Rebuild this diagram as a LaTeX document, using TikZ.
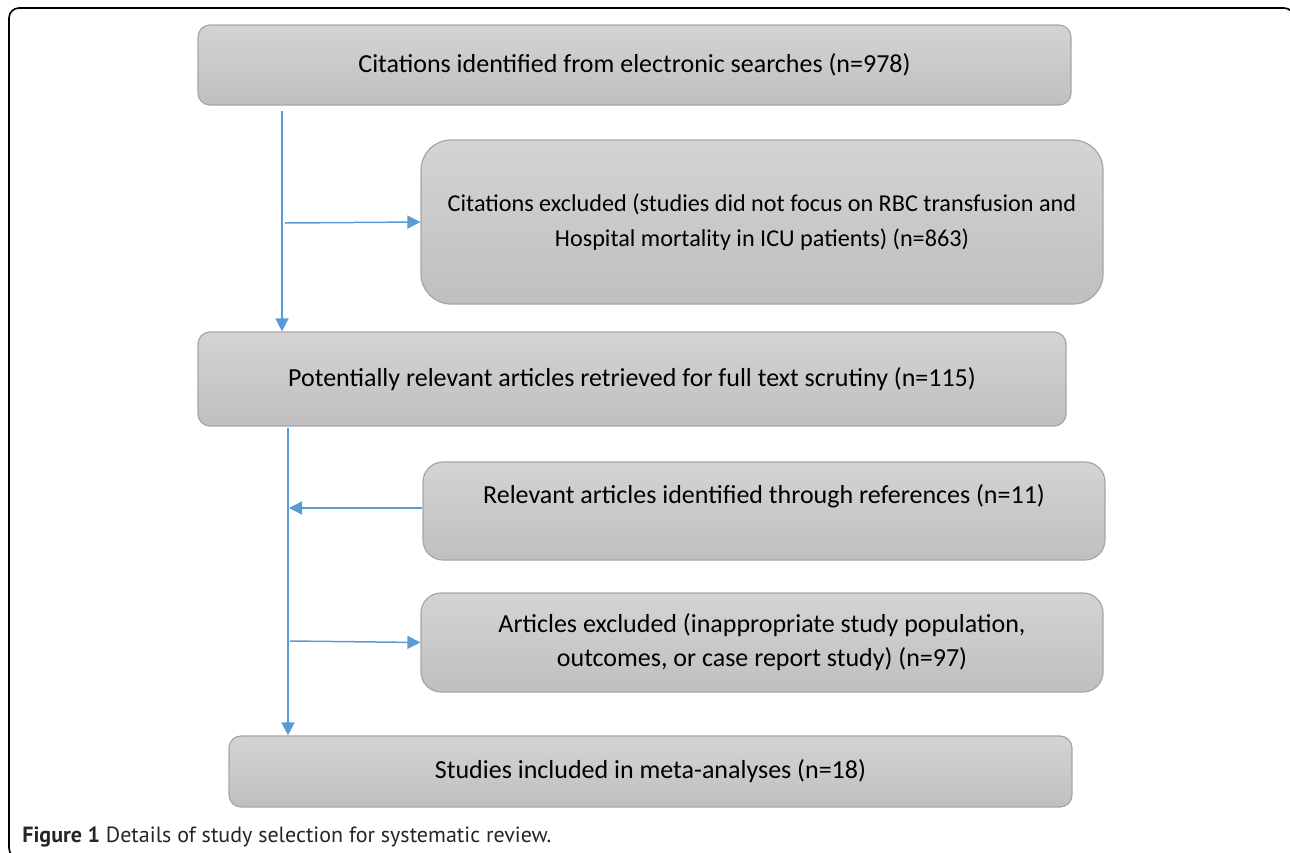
\documentclass[tikz,border=0pt]{standalone}
\usepackage{fontspec}
\setmainfont{Carlito}
\newfontfamily\capfont{PT Sans}
\usetikzlibrary{arrows.meta}
\definecolor{flowblue}{RGB}{91,155,213}
\definecolor{boxedge}{RGB}{166,166,166}
\tikzset{
	stepbox/.style={draw=boxedge, line width=0.6pt, top color=black!17, bottom color=black!25,
		align=center, inner sep=0pt, font=\fontsize{13}{17}\selectfont},
	flow/.style={draw=flowblue, line width=0.75pt, -{Triangle[length=6.5pt,width=6.5pt]}},
}

\begin{document}
\begin{tikzpicture}[x=0.5pt, y=-0.5pt]
			%%%%% START %%%%%
			
			\clip (0, 0) rectangle (1290, 852);
			\useasboundingbox (0, 0) rectangle (1290, 852);
			\draw[rounded corners=5pt, line width=0.8pt] (9, 8) rectangle (1294, 858);
			
			\node[stepbox, rounded corners=6pt, minimum width=436.5pt, minimum height=40pt] (search) at (634.5, 65) {Citations identified from electronic searches (n=978)};
			\node[stepbox, rounded corners=15pt, minimum width=341pt, minimum height=82pt, font=\fontsize{12.1}{17.5}\selectfont] (excl1) at (762, 222) {Citations excluded (studies did not focus on RBC transfusion and\\Hospital mortality in ICU patients) (n=863)};
			\node[stepbox, rounded corners=6pt, minimum width=434pt, minimum height=47pt] (full) at (632, 379) {Potentially relevant articles retrieved for full text scrutiny (n=115)};
			\node[stepbox, rounded corners=10pt, minimum width=341pt, minimum height=49pt] (refs) at (764, 511) {Relevant articles identified through references (n=11)\\~};
			\node[stepbox, rounded corners=10pt, minimum width=341pt, minimum height=49.5pt] (excl2) at (762, 642.5) {Articles excluded (inappropriate study population,\\outcomes, or case report study) (n=97)};
			\node[stepbox, rounded corners=6pt, minimum width=421.5pt, minimum height=35.5pt] (incl) at (650.5, 771.5) {Studies included in meta-analyses (n=18)};
			
			\coordinate (s1) at (282, 111);
			\coordinate (j1) at (285, 223);
			\coordinate (s2) at (288, 428);
			\coordinate (j2) at (290, 641);
			
			\draw[flow] (s1) -- (s1 |- full.north);
			\draw[flow] (j1) -- (excl1.west);
			\draw[flow] (s2) -- (s2 |- incl.north);
			\draw[flow] ([yshift=1.5pt]refs.west) -- ([xshift=0.5pt, yshift=1.5pt]refs.west -| s2);
			\draw[flow] (j2) -- (excl2.west);
			
			\node[anchor=base west, inner sep=0pt, font=\capfont\fontsize{11}{13}\selectfont, text=black!85] (caption) at (22, 842) {\textbf{Figure 1} Details of study selection for systematic review.};
			
			%%%%% END %%%%%
		\end{tikzpicture}
\end{document}
